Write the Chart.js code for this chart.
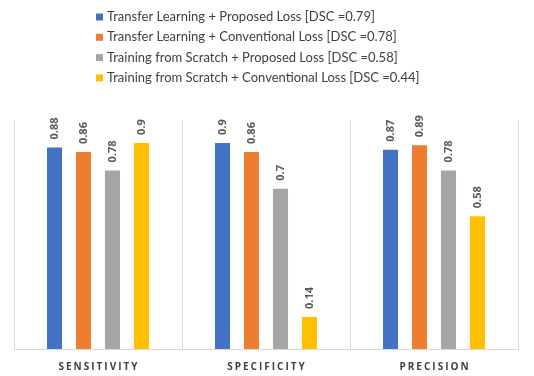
<!DOCTYPE html>
<html>
<head>
<meta charset="utf-8">
<script src="https://cdn.jsdelivr.net/npm/chart.js@4.4.0/dist/chart.umd.min.js"></script>
<style>
  html, body { margin: 0; padding: 0; background: #fff; }
  #wrap { width: 534px; height: 376px; position: relative; }
</style>
</head>
<body>
<div id="wrap"><canvas id="chart" width="534" height="376"></canvas></div>
<script>
const categories = ['SENSITIVITY', 'SPECIFICITY', 'PRECISION'];
const seriesNames = [
  'Transfer Learning + Proposed Loss [DSC =0.79]',
  'Transfer Learning + Conventional Loss [DSC =0.78]',
  'Training from Scratch + Proposed Loss [DSC =0.58]',
  'Training from Scratch + Conventional Loss [DSC =0.44]'
];
const tlProposed = [0.88, 0.9, 0.87];
const tlConventional = [0.86, 0.86, 0.89];
const scratchProposed = [0.78, 0.7, 0.78];
const scratchConventional = [0.9, 0.14, 0.58];
const colors = ['#4472C4', '#ED7D31', '#A5A5A5', '#FFC000'];

const values = [tlProposed, tlConventional, scratchProposed, scratchConventional];

// legend + value labels + letter-spaced category labels
const drawExtras = {
  id: 'drawExtras',
  afterDatasetsDraw(chart) {
    const ctx = chart.ctx;
    ctx.save();
    ctx.fillStyle = '#595959';
    ctx.font = 'bold 11px "Open Sans"';
    ctx.textAlign = 'left';
    ctx.textBaseline = 'middle';
    chart.data.datasets.forEach((ds, i) => {
      chart.getDatasetMeta(i).data.forEach((bar, j) => {
        ctx.save();
        ctx.translate(bar.x + 0.5, bar.y - 8);
        ctx.rotate(-Math.PI / 2);
        ctx.fillText(String(ds.data[j]), 0, 0);
        ctx.restore();
      });
    });

    // x labels
    const xs = chart.scales.x;
    ctx.fillStyle = '#404040';
    ctx.font = 'bold 10px "Open Sans"';
    ctx.letterSpacing = '2px';
    ctx.textAlign = 'center';
    categories.forEach((c, i) => {
      ctx.fillText(c, xs.getPixelForValue(i) + 1, 367);
    });
    ctx.letterSpacing = '0px';

    // legend
    ctx.font = '13px Lato';
    ctx.textAlign = 'left';
    chart.data.datasets.forEach((ds, i) => {
      const y = 17 + i * 20.3;
      ctx.fillStyle = ds.backgroundColor;
      ctx.fillRect(96, y - 3.5, 7, 7);
      ctx.fillStyle = '#404040';
      ctx.fillText(ds.label, 107, y);
    });
    ctx.restore();
  }
};

new Chart(document.getElementById('chart'), {
  type: 'bar',
  data: {
    labels: categories,
    datasets: seriesNames.map((name, i) => ({
      label: name,
      data: values[i],
      backgroundColor: colors[i],
      barPercentage: 0.52,
      categoryPercentage: 0.69
    }))
  },
  options: {
    responsive: false,
    animation: false,
    layout: { padding: { top: 120, left: 14, right: 16, bottom: 27 } },
    plugins: {
      legend: { display: false },
      tooltip: { enabled: false }
    },
    scales: {
      x: {
        grid: { offset: true, color: '#d9d9d9', drawTicks: false },
        border: { color: '#d9d9d9' },
        ticks: { display: false }
      },
      y: {
        display: false,
        min: 0,
        max: 1
      }
    }
  },
  plugins: [drawExtras]
});
</script>
</body>
</html>
